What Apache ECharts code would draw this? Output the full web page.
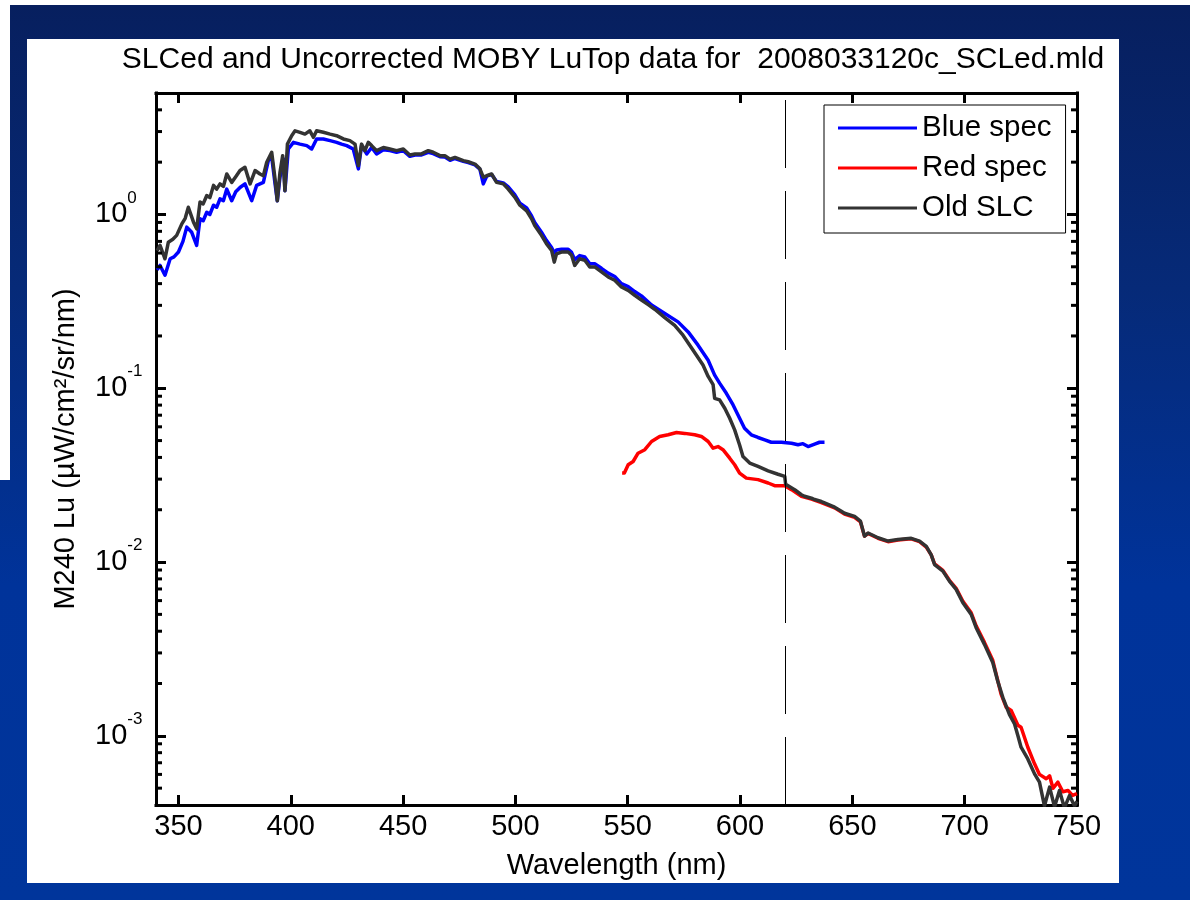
<!DOCTYPE html>
<html>
<head>
<meta charset="utf-8">
<script src="https://cdn.jsdelivr.net/npm/echarts@6/dist/echarts.min.js"></script>
<style>
html,body{margin:0;padding:0;width:1190px;height:900px;overflow:hidden;}
body{position:relative;background:linear-gradient(180deg,#071f5e 0%,#062a78 32%,#00339a 65%,#00359b 100%);}
#topstrip{position:absolute;left:0;top:0;width:1190px;height:5px;background:#fff;}
#leftstrip{position:absolute;left:0;top:0;width:10px;height:480px;background:#fff;}
#panel{position:absolute;left:27px;top:39px;width:1092px;height:844px;background:#fff;}
#chart{position:absolute;left:0;top:0;width:1190px;height:900px;}
</style>
</head>
<body>
<div id="topstrip"></div>
<div id="leftstrip"></div>
<div id="panel"></div>
<div id="chart"></div>
<script>
// ---------------- data (wavelength nm, Lu) ----------------
const chartTitle = 'SLCed and Uncorrected MOBY LuTop data for  2008033120c_SCLed.mld';
const xAxisName = 'Wavelength (nm)';
const yAxisName = 'M240 Lu (\u00b5W/cm\u00b2/sr/nm)';
const seriesNames = ['Blue spec', 'Red spec', 'Old SLC'];
const xTicks = [350, 400, 450, 500, 550, 600, 650, 700, 750];
const yMinorTicks = [5e-4, 6e-4, 7e-4, 8e-4, 9e-4,
  2e-3, 3e-3, 4e-3, 5e-3, 6e-3, 7e-3, 8e-3, 9e-3,
  2e-2, 3e-2, 4e-2, 5e-2, 6e-2, 7e-2, 8e-2, 9e-2,
  0.2, 0.3, 0.4, 0.5, 0.6, 0.7, 0.8, 0.9,
  2, 3, 4];
const xRange = [340, 750];
const yRange = [4e-4, 5];
const slcCutWavelength = 620;

const blueSpec = [
  [340.5,0.48],[341.8,0.509],[344.0,0.447],[346.3,0.556],[348,0.57],[350,0.608],[352,0.70],[353.7,0.846],
  [355.9,0.79],[358.1,0.664],[359.6,0.944],[361,0.92],[362.6,1.03],[364,1.00],[365.6,1.13],[367,1.10],
  [368.5,1.23],[370,1.20],[371.5,1.40],[373.7,1.20],[375.5,1.35],[377.4,1.43],[379.6,1.50],[382.6,1.20],
  [384.8,1.47],[387.8,1.53],[390.0,2.04],[391.5,2.15],[393.0,1.50],[394.0,1.20],[395.2,1.64],[396.9,2.08],
  [397.4,1.37],[398.9,2.38],[401.2,2.60],[404.1,2.54],[407.1,2.49],[409.3,2.38],[411.5,2.72],[414.5,2.72],
  [417.5,2.66],[420.4,2.60],[422.6,2.54],[424.9,2.49],[427.8,2.38],[430.1,1.83],[431.5,2.49],[433.8,2.23],
  [436.0,2.43],[438.2,2.23],[441.2,2.36],[444.1,2.33],[447.1,2.28],[450.1,2.33],[453.0,2.16],[455.3,2.20],
  [458.2,2.20],[461.2,2.28],[463.4,2.24],[466.4,2.15],[468.6,2.14],[470.9,2.05],[473.1,2.10],[476.8,2.02],
  [479.0,1.99],[482.0,1.93],[484.2,1.82],[485.7,1.50],[487.2,1.66],[489.4,1.70],[491.6,1.55],[494.6,1.52],
  [496.8,1.44],[499.7,1.30],[502.0,1.16],[505.0,1.09],[507.2,0.98],[508.6,0.90],[511.6,0.79],[513.8,0.71],
  [516.1,0.645],[517.3,0.60],[518.3,0.625],[520.5,0.63],[523.5,0.63],[525.0,0.605],[526.4,0.55],[528.6,0.58],
  [530.9,0.57],[533.1,0.52],[535.3,0.52],[538.3,0.49],[541.3,0.46],[544.2,0.44],[547.2,0.40],[550.2,0.385],
  [553.1,0.36],[556.1,0.34],[560.6,0.301],[566.5,0.269],[572.4,0.241],[576.9,0.211],[581.3,0.177],[585.8,0.145],
  [588.7,0.119],[590.9,0.107],[593.9,0.0935],[596.9,0.0802],[599.8,0.0672],[602.0,0.0589],[605.0,0.0540],
  [608.0,0.0521],[611.0,0.0505],[613.9,0.0489],[618.4,0.0489],[622.9,0.0483],[625.8,0.0473],[628.0,0.0480],
  [630.3,0.0462],[633.2,0.0477],[635.4,0.0489],[637.6,0.0489]
];

const redSpec = [
  [547.5,0.0325],[548.5,0.0325],[550.2,0.0363],[552.4,0.0379],[554.6,0.0423],[557.6,0.0443],[560.6,0.0494],
  [564.2,0.0528],[568.0,0.0540],[571.7,0.0556],[575.4,0.0550],[579.8,0.0540],[582.8,0.0528],[585.8,0.0494],
  [588.0,0.0452],[590.2,0.0462],[592.4,0.0443],[595.4,0.0396],[597.6,0.0363],[599.8,0.0325],[602.8,0.0304],
  [608.0,0.0298],[612.5,0.0285],[615.4,0.0275],[619.9,0.0275],[622.9,0.0261],[627.3,0.0239],[631.8,0.0230],
  [636.2,0.0220],[642.1,0.0205],[646.5,0.0189],[651.0,0.0181],[653.6,0.0170],[655.4,0.0141],[657.0,0.0146],
  [661.4,0.0137],[665.9,0.0131],[670.3,0.0134],[676.2,0.0136],[679.9,0.0131],[682.9,0.0122],[685.1,0.0110],
  [686.6,0.00975],[690.3,0.00895],[693.2,0.00785],[696.2,0.00705],[699.2,0.00595],[702.9,0.00510],
  [705.1,0.00430],[708.8,0.00345],[712.5,0.00272],[716.2,0.00174],[718.5,0.00146],[720.7,0.00140],
  [723.7,0.00115],[725.1,0.00112],[728.1,0.00086],[731.1,0.00069],[733.3,0.00060],[736.3,0.000566],
  [737.8,0.000589],[739.3,0.000499],[741.5,0.000541],[743.7,0.000477],[746.0,0.000485],[748.0,0.000454],
  [750,0.000465]
];

const oldSlc = [
  [340.5,0.62],[341.8,0.664],[344.0,0.556],[345.5,0.693],[347.5,0.72],[349.2,0.758],[351.5,0.883],[353,0.95],
  [354.4,1.10],[356.7,0.903],[358.1,0.827],[359.6,1.18],[361,1.15],[362.6,1.285],[364,1.25],[365.6,1.47],
  [367,1.40],[368.5,1.50],[370,1.45],[371.5,1.71],[373.7,1.53],[375.5,1.65],[377.4,1.79],[379.6,1.87],
  [381.9,1.50],[384.1,1.79],[386.3,1.71],[387.8,1.67],[389.3,2.00],[391.5,2.28],[393.0,1.60],[394.0,1.20],
  [395.2,1.75],[396.4,2.18],[397.4,1.37],[398.5,2.54],[400.4,2.84],[401.9,3.03],[404.1,2.97],[406.3,2.90],
  [408.5,3.03],[410.1,2.78],[411.5,3.03],[414.5,2.97],[417.5,2.90],[420.4,2.84],[423.4,2.72],[426.3,2.66],
  [428.6,2.54],[430.1,1.91],[431.5,2.54],[433.0,2.33],[434.5,2.60],[436.0,2.49],[438.2,2.33],[441.2,2.43],
  [444.1,2.38],[447.1,2.33],[450.1,2.38],[453.0,2.20],[455.3,2.23],[458.2,2.23],[461.2,2.33],[463.4,2.28],
  [466.4,2.18],[468.6,2.18],[470.9,2.08],[473.1,2.13],[476.8,2.04],[479.0,2.01],[482.0,1.95],[484.2,1.83],
  [485.7,1.64],[487.2,1.67],[489.4,1.71],[491.6,1.53],[494.6,1.50],[496.8,1.40],[499.7,1.26],[502.0,1.13],
  [505.0,1.05],[507.2,0.944],[508.6,0.865],[511.6,0.758],[513.8,0.679],[516.1,0.621],[517.3,0.532],
  [518.3,0.594],[520.5,0.608],[523.5,0.608],[525.0,0.582],[526.4,0.509],[528.6,0.556],[530.9,0.545],
  [533.1,0.499],[535.3,0.499],[538.3,0.467],[541.3,0.437],[544.2,0.418],[547.2,0.383],[550.2,0.366],
  [553.1,0.343],[556.1,0.322],[559.1,0.303],[562.0,0.285],[566.5,0.255],[570.9,0.230],[574.6,0.202],
  [577.6,0.177],[580.6,0.155],[583.5,0.136],[585.8,0.117],[588.0,0.105],[588.7,0.0875],[590.9,0.0857],
  [593.2,0.0767],[595.4,0.0672],[597.6,0.0576],[599.8,0.0472],[601.3,0.0405],[604.3,0.0371],[608.0,0.0355],
  [612.5,0.0335],[616.9,0.0320],[619.9,0.0311],[620.3,0.0280],[624.3,0.0261],[627.3,0.0244],[628.7,0.0239],
  [631.8,0.0233],[633.2,0.0229],[636.2,0.0223],[637.6,0.0219],[642.1,0.0207],[645.1,0.0196],[646.5,0.0191],
  [651.0,0.0183],[653.6,0.0172],[655.4,0.0141],[657.0,0.0147],[661.4,0.0138],[665.9,0.0132],[670.3,0.0135],
  [676.2,0.0137],[679.9,0.0132],[682.9,0.0123],[685.1,0.0110],[686.6,0.00968],[690.3,0.00887],[693.2,0.00777],
  [696.2,0.00696],[699.2,0.00583],[702.9,0.00500],[705.1,0.00419],[708.8,0.00336],[712.5,0.00264],
  [714.7,0.00207],[717.0,0.00166],[719.9,0.00133],[722.2,0.00117],[723.7,0.00100],[725.1,0.00086],
  [728.1,0.000736],[731.1,0.000604],[733.3,0.000541],[735.5,0.000395],[737.8,0.000507],[740.0,0.000390],
  [742.2,0.000485],[744.4,0.000385],[746.7,0.000454],[748.9,0.000395],[750,0.00042]
];

// ---------------- chart ----------------
const FONT = "'Liberation Sans', Arial, Helvetica, sans-serif";
const AXIS_LINE = { show: true, lineStyle: { color: '#000', width: 3, cap: 'square' } };
const MAJOR_TICK = { show: true, inside: true, length: 10, lineStyle: { color: '#000', width: 3 } };
const LINE_W = 3.5;

const chart = echarts.init(document.getElementById('chart'), null, { renderer: 'canvas' });

const option = {
  animation: false,
  backgroundColor: 'transparent',
  textStyle: { fontFamily: FONT, color: '#000' },
  title: {
    text: chartTitle, left: 613, top: 45, padding: 0, textAlign: 'center',
    textStyle: { fontFamily: FONT, fontSize: 30, fontWeight: 'normal', color: '#000' }
  },
  grid: { left: 156, right: 113, top: 93, bottom: 95, containLabel: false },
  legend: {
    data: seriesNames, orient: 'vertical', left: 824, top: 105,
    icon: 'rect', itemWidth: 79, itemHeight: 3, itemGap: 10,
    padding: [8, 14, 10, 14], borderColor: '#000', borderWidth: 1, backgroundColor: '#fff',
    selectedMode: false,
    textStyle: { fontFamily: FONT, fontSize: 29.5, color: '#000' }
  },
  xAxis: [
    {
      type: 'value', position: 'bottom', min: xRange[0], max: xRange[1],
      axisLine: AXIS_LINE,
      axisTick: Object.assign({ customValues: xTicks }, MAJOR_TICK),
      axisLabel: { customValues: xTicks, fontFamily: FONT, fontSize: 29, color: '#000', margin: 7 },
      splitLine: { show: false },
      name: xAxisName, nameLocation: 'middle', nameGap: 46,
      nameTextStyle: { fontFamily: FONT, fontSize: 29, color: '#000' }
    },
    {
      type: 'value', position: 'top', min: xRange[0], max: xRange[1],
      axisLine: AXIS_LINE,
      axisTick: Object.assign({ customValues: xTicks }, MAJOR_TICK),
      axisLabel: { show: false },
      splitLine: { show: false }
    }
  ],
  yAxis: [
    {
      type: 'log', logBase: 10, position: 'left', min: yRange[0], max: yRange[1],
      axisLine: AXIS_LINE, axisTick: MAJOR_TICK,
      splitLine: { show: false }, minorTick: { show: false },
      axisLabel: {
        align: 'left', margin: 61,
        formatter: function (v) {
          const e = Math.log10(v), r = Math.round(e);
          if (Math.abs(e - r) > 1e-6) return '';
          return '{b|10}{e|' + r + '}';
        },
        rich: {
          b: { fontFamily: FONT, fontSize: 29, lineHeight: 50, color: '#000' },
          e: { fontFamily: FONT, fontSize: 17, lineHeight: 17, verticalAlign: 'top', color: '#000' }
        }
      },
      name: yAxisName, nameLocation: 'middle', nameGap: 76, nameRotate: 90,
      nameTextStyle: { fontFamily: FONT, fontSize: 29, color: '#000' }
    },
    {
      type: 'log', logBase: 10, position: 'right', min: yRange[0], max: yRange[1],
      axisLine: AXIS_LINE, axisTick: MAJOR_TICK,
      axisLabel: { show: false }, splitLine: { show: false }
    }
  ],
  series: [
    {
      name: seriesNames[0], type: 'line', data: blueSpec, xAxisIndex: 0, yAxisIndex: 0,
      symbol: 'none', showSymbol: false, clip: true, z: 2,
      lineStyle: { color: '#0000ff', width: LINE_W, join: 'round' }, itemStyle: { color: '#0000ff' }
    },
    {
      name: seriesNames[1], type: 'line', data: redSpec, xAxisIndex: 0, yAxisIndex: 0,
      symbol: 'none', showSymbol: false, clip: true, z: 3,
      lineStyle: { color: '#ff0000', width: LINE_W, join: 'round' }, itemStyle: { color: '#ff0000' }
    },
    {
      name: seriesNames[2], type: 'line', data: oldSlc, xAxisIndex: 0, yAxisIndex: 0,
      symbol: 'none', showSymbol: false, clip: true, z: 4,
      lineStyle: { color: '#333333', width: LINE_W, join: 'round' }, itemStyle: { color: '#333333' },
      markLine: {
        silent: true, symbol: ['none', 'none'], label: { show: false },
        lineStyle: { color: '#000', width: 1, type: [68, 23] },
        emphasis: { disabled: true },
        data: [{ xAxis: slcCutWavelength }]
      }
    },
    {
      type: 'custom', silent: true, xAxisIndex: 0, yAxisIndex: 0, z: 6, clip: false,
      data: yMinorTicks.map(function (v) { return [xRange[0], v]; }),
      encode: { x: 0, y: 1 },
      renderItem: function (params, api) {
        const y = api.value(1);
        const pL = api.coord([xRange[0], y]);
        const pR = api.coord([xRange[1], y]);
        return {
          type: 'group',
          children: [
            { type: 'line', shape: { x1: pL[0], y1: pL[1], x2: pL[0] + 6, y2: pL[1] }, style: { stroke: '#000', lineWidth: 3 } },
            { type: 'line', shape: { x1: pR[0], y1: pR[1], x2: pR[0] - 6, y2: pR[1] }, style: { stroke: '#000', lineWidth: 3 } }
          ]
        };
      }
    }
  ]
};
chart.setOption(option);
</script>
</body>
</html>
